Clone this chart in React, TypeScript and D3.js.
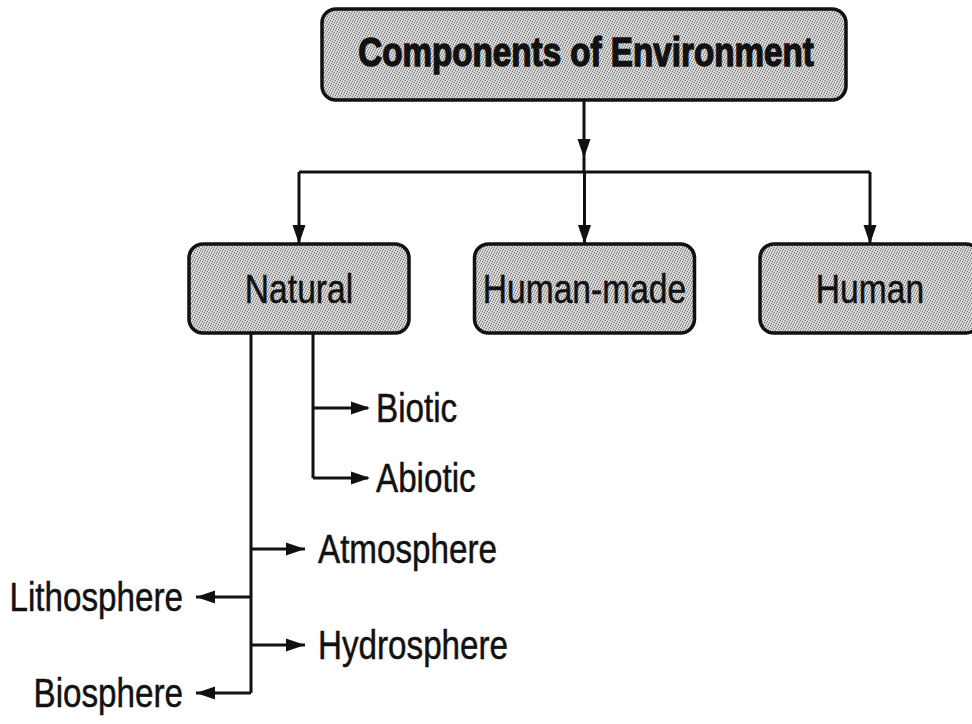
import React from "react";
import * as d3 from "d3";

// tree content
const rootLabel = "Components of Environment";
const mainBranches = ["Natural", "Human-made", "Human"];
const naturalKinds = ["Biotic", "Abiotic"];
const sphereRows = ["Atmosphere", "Lithosphere", "Hydrosphere", "Biosphere"];
const sphereSides = ["right", "left", "right", "left"];

const W = 972,
  H = 724;
const FONT = '"Liberation Sans", Arial, sans-serif';

// narrow look: the original uses a condensed grotesque
const Label = ({ x, y, anchor = "start", size = 41, bold = false, squeeze = 0.81, weight = 0.5, children }: any) => (
  <text
    transform={`translate(${x},${y}) scale(${squeeze},1)`}
    dy="0.35em"
    textAnchor={anchor}
    fontFamily={FONT}
    fontWeight={bold ? "bold" : "normal"}
    fontSize={size}
    fill="#111"
    stroke="#111"
    strokeWidth={weight}
  >
    {children}
  </text>
);

const App = () => {
  // layout scales
  const xBranch = d3.scalePoint<string>().domain(mainBranches).range([299, 870]);
  const yKind = d3.scalePoint<string>().domain(naturalKinds).range([408, 478]);
  const ySphere = d3.scalePoint<string>().domain(sphereRows).range([549, 693]);

  const root = { x0: 322, x1: 846, y0: 9, y1: 100 };
  const busY = 172;
  const boxTop = 244,
    boxBottom = 333,
    boxW = 220;
  const trunkOuter = 251,
    trunkInner = 313;

  const line = d3.line<[number, number]>();
  const stroke = { stroke: "#111", strokeWidth: 3, fill: "none" };

  // arrowhead pointing in direction (dx,dy) with tip at (x,y)
  const head = (x: number, y: number, dx: number, dy: number) => {
    const len = 19,
      half = 6.5;
    const bx = x - dx * len,
      by = y - dy * len;
    const px = -dy * half,
      py = dx * half;
    return `M${x},${y}L${bx + px},${by + py}L${bx - px},${by - py}Z`;
  };

  const firstX = xBranch(mainBranches[0])!;
  const lastX = xBranch(mainBranches[mainBranches.length - 1])!;
  const rootX = (root.x0 + root.x1) / 2;

  return (
    <svg width={W} height={H} style={{ position: "absolute", left: 0, top: 0, background: "#fff" }}>
      <defs>
        <pattern id="stipple" width={5} height={5} patternUnits="userSpaceOnUse">
          <rect width={5} height={5} fill="#c6c6c6" />
          {[[0, 0], [2, 1], [4, 2], [1, 3], [3, 4]].map(([x, y], i) => (
            <rect key={"d" + i} x={x} y={y} width={1} height={1} fill="#777" />
          ))}
          {[[1, 0], [3, 1], [0, 2], [2, 3], [4, 4]].map(([x, y], i) => (
            <rect key={"l" + i} x={x} y={y} width={1} height={1} fill="#f0f0f0" />
          ))}
        </pattern>
      </defs>

      {/* root box */}
      <rect x={root.x0} y={root.y0} width={root.x1 - root.x0} height={root.y1 - root.y0}
        rx={14} fill="url(#stipple)" stroke="#111" strokeWidth={3.5} />
      <Label x={rootX + 2} y={(root.y0 + root.y1) / 2 - 3} anchor="middle" size={40} bold squeeze={0.83} weight={1.4}>
        {rootLabel}
      </Label>

      {/* root -> bus */}
      <path d={line([[rootX, root.y1], [rootX, busY]])!} {...stroke} />
      <path d={head(rootX, 158, 0, 1)} fill="#111" />
      <path d={line([[firstX, busY], [lastX, busY]])!} {...stroke} />

      {/* main branches */}
      {mainBranches.map((b) => {
        const cx = xBranch(b)!;
        return (
          <g key={b}>
            <path d={line([[cx, busY], [cx, boxTop]])!} {...stroke} />
            <path d={head(cx, boxTop, 0, 1)} fill="#111" />
            <rect x={cx - boxW / 2} y={boxTop} width={boxW} height={boxBottom - boxTop}
              rx={14} fill="url(#stipple)" stroke="#111" strokeWidth={3.5} />
            <Label x={cx} y={(boxTop + boxBottom) / 2} anchor="middle" size={40} squeeze={0.84}>
              {b}
            </Label>
          </g>
        );
      })}

      {/* natural: biotic / abiotic */}
      <path d={line([[trunkInner, boxBottom], [trunkInner, yKind(naturalKinds[naturalKinds.length - 1])!]])!} {...stroke} />
      {naturalKinds.map((k) => {
        const y = yKind(k)!;
        return (
          <g key={k}>
            <path d={line([[trunkInner, y], [368, y]])!} {...stroke} />
            <path d={head(370, y, 1, 0)} fill="#111" />
            <Label x={376} y={y}>{k}</Label>
          </g>
        );
      })}

      {/* natural: spheres */}
      <path d={line([[trunkOuter, boxBottom], [trunkOuter, ySphere(sphereRows[sphereRows.length - 1])!]])!} {...stroke} />
      {sphereRows.map((s, i) => {
        const y = ySphere(s)!;
        const right = sphereSides[i] === "right";
        const tip = right ? trunkOuter + 54 : trunkOuter - 55;
        return (
          <g key={s}>
            <path d={line([[trunkOuter, y], [tip, y]])!} {...stroke} />
            <path d={head(tip, y, right ? 1 : -1, 0)} fill="#111" />
            <Label x={right ? tip + 13 : tip - 13} y={y} anchor={right ? "start" : "end"}>
              {s}
            </Label>
          </g>
        );
      })}
    </svg>
  );
};

export default App;
